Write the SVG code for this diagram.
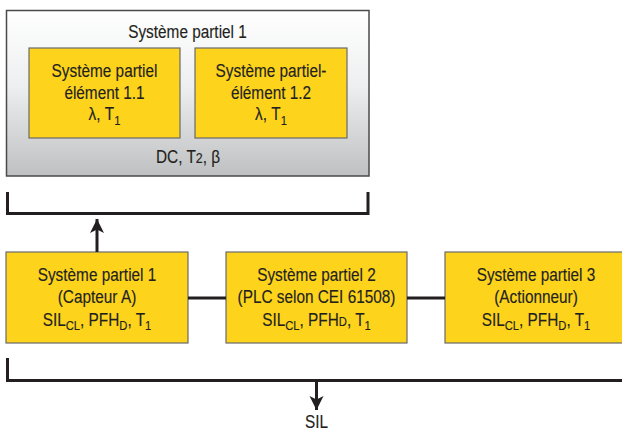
<svg xmlns="http://www.w3.org/2000/svg" width="622" height="431" viewBox="0 0 622 431">
<style>
text{font-family:"Liberation Sans",Arial,sans-serif;font-size:18.5px;fill:#231f20;text-anchor:middle;stroke:#231f20;stroke-width:0.15}
.sub{font-size:13.5px}
.box{fill:#fdd31c;stroke:#6a6a6a;stroke-width:1.2}
.ln{fill:none;stroke:#231f20;stroke-width:3}
</style>
<defs>
<linearGradient id="g" x1="0" y1="0" x2="0" y2="1">
<stop offset="0" stop-color="#ffffff"/>
<stop offset="0.45" stop-color="#eeeff0"/>
<stop offset="1" stop-color="#bfc0c2"/>
</linearGradient>
<marker id="ah" markerUnits="userSpaceOnUse" markerWidth="14" markerHeight="16" viewBox="0 0 14 16" refX="14" refY="7" orient="auto">
<path d="M0,0 L14,7 L0,14 L3.5,7 Z" fill="#231f20"/>
</marker>
</defs>
<g id="sys-group">
<rect x="6.5" y="10.5" width="362.5" height="165.5" fill="url(#g)" stroke="#4a4a4a" stroke-width="1.5"/>
<text transform="translate(187.5 38) scale(0.83 1)">Système partiel 1</text>
<text transform="translate(188 163) scale(0.83 1)">DC, T<tspan font-size="15">2</tspan>, β</text>
</g>
<g id="elem11">
<rect class="box" x="29" y="48" width="151" height="90"/>
<text transform="translate(104.5 77) scale(0.83 1)">Système partiel</text>
<text transform="translate(104.5 99) scale(0.83 1)">élément 1.1</text>
<text transform="translate(104.5 120) scale(0.83 1)">λ, T<tspan class="sub" dy="5">1</tspan></text>
</g>
<g id="elem12">
<rect class="box" x="195" y="48" width="152" height="90"/>
<text transform="translate(271 77) scale(0.83 1)">Système partiel-</text>
<text transform="translate(271 99) scale(0.83 1)">élément 1.2</text>
<text transform="translate(271 120) scale(0.83 1)">λ, T<tspan class="sub" dy="5">1</tspan></text>
</g>
<g id="ps1">
<rect class="box" x="6" y="252" width="182" height="91"/>
<text transform="translate(97 281) scale(0.83 1)">Système partiel 1</text>
<text transform="translate(97 303) scale(0.83 1)">(Capteur A)</text>
<text transform="translate(97 326) scale(0.83 1)">SIL<tspan class="sub" dy="4">CL</tspan><tspan dy="-4">, PFH</tspan><tspan class="sub" dy="4">D</tspan><tspan dy="-4">, T</tspan><tspan class="sub" dy="4">1</tspan></text>
</g>
<g id="ps2">
<rect class="box" x="226" y="252" width="181" height="91"/>
<text transform="translate(316.5 281) scale(0.83 1)">Système partiel 2</text>
<text transform="translate(316.5 303) scale(0.83 1)">(PLC selon CEI 61508)</text>
<text transform="translate(316.5 326) scale(0.83 1)">SIL<tspan class="sub" dy="4">CL</tspan><tspan dy="-4">, PFH</tspan><tspan class="sub">D</tspan>, T<tspan class="sub" dy="4">1</tspan></text>
</g>
<g id="ps3">
<rect class="box" x="445" y="252" width="182" height="91"/>
<text transform="translate(536 281) scale(0.83 1)">Système partiel 3</text>
<text transform="translate(536 303) scale(0.83 1)">(Actionneur)</text>
<text transform="translate(536 326) scale(0.83 1)">SIL<tspan class="sub" dy="4">CL</tspan><tspan dy="-4">, PFH</tspan><tspan class="sub" dy="4">D</tspan><tspan dy="-4">, T</tspan><tspan class="sub" dy="4">1</tspan></text>
</g>
<g id="connectors">
<path class="ln" d="M7.5,192 V213.5 H368 V192"/>
<path class="ln" d="M97,252 V219" marker-end="url(#ah)"/>
<path class="ln" d="M188,298 H226"/>
<path class="ln" d="M407,298 H445"/>
<path class="ln" d="M7.5,358 V380.5 H630"/>
<path class="ln" d="M316.5,380.5 V410" marker-end="url(#ah)"/>
</g>
<text transform="translate(316.5 428) scale(0.83 1)">SIL</text>
</svg>
